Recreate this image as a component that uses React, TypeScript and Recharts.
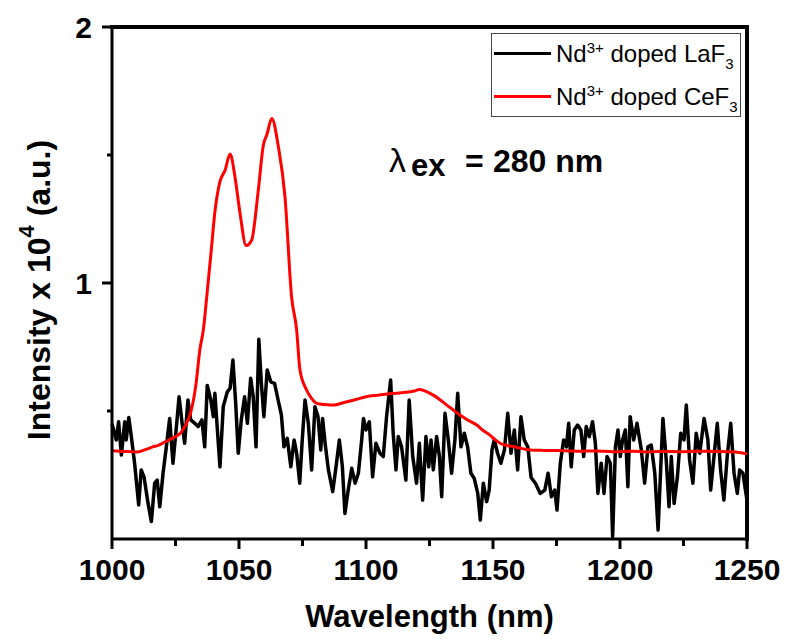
import { LineChart, Line, XAxis, YAxis, Legend } from "recharts"

const FONT = "'Liberation Sans', Arial, sans-serif"

// Nd3+ doped LaF3 (black, noisy)
const lafX = [
  1000, 1001.7, 1002.6, 1003.7, 1005, 1005.6, 1006.6, 1007.6, 1008.9, 1010.5,
  1011.5, 1012.6, 1014.2, 1015.5, 1016.8, 1017.8, 1018.8, 1020.1, 1021.4, 1022.7,
  1024, 1025.3, 1026.4, 1027.6, 1028.6, 1029.9, 1031, 1032.6, 1033.9, 1035.4,
  1036.5, 1037.5, 1038.9, 1039.9, 1040.5, 1042.5, 1043.8, 1045.4, 1046.5, 1047.6,
  1048.7, 1049.7, 1050.9, 1052.2, 1053.3, 1054.6, 1055.6, 1056.7, 1057.8, 1058.8,
  1059.8, 1061.1, 1062.5, 1064, 1065.4, 1066.7, 1067.7, 1069, 1070.4, 1071.7,
  1072.7, 1073.9, 1074.9, 1076, 1077.3, 1078.6, 1079.9, 1081.1, 1082.2, 1082.9,
  1083.9, 1085.2, 1086.9, 1088.2, 1089.5, 1090.7, 1091.7, 1093, 1094.4, 1095.7,
  1097, 1098.3, 1099, 1100, 1101.3, 1102.6, 1103.9, 1105.5, 1106.8, 1108.1,
  1109.7, 1110.7, 1111.8, 1112.7, 1114, 1115.7, 1117, 1118.4, 1119.9, 1121,
  1122.3, 1123.6, 1124.7, 1125.6, 1126.5, 1127.8, 1128.9, 1129.8, 1131.1, 1132.4,
  1133.7, 1135, 1136.1, 1137.4, 1138.7, 1140, 1141.3, 1142.6, 1144, 1145,
  1146.2, 1147.5, 1148.5, 1149.6, 1150.5, 1151.8, 1153.1, 1154.5, 1155.8, 1157.1,
  1158.4, 1159.7, 1161, 1162.3, 1163.7, 1165, 1166.7, 1168.6, 1170.4, 1171.7,
  1173, 1174.3, 1175.2, 1176.5, 1177.8, 1178.9, 1179.8, 1180.8, 1182, 1183.3,
  1184.6, 1185.7, 1186.7, 1187.9, 1189.2, 1190.3, 1191.3, 1192.6, 1193.7, 1194.9,
  1196.2, 1197.1, 1198.2, 1199.2, 1200.1, 1201, 1202.1, 1203.1, 1204, 1205.4,
  1206.7, 1208.4, 1209.7, 1211, 1212.3, 1213.7, 1215, 1216, 1216.9, 1218.2,
  1219.3, 1220.2, 1221.3, 1222.6, 1223.9, 1225.2, 1226.1, 1227.4, 1228.7, 1230,
  1231.4, 1233.1, 1234.6, 1235.7, 1237, 1238.3, 1239.6, 1240.9, 1242.2, 1243.6,
  1244.9, 1246.2, 1247.1, 1248.4, 1250,
]
const lafY = [
  0.45, 0.387, 0.458, 0.328, 0.458, 0.387, 0.475, 0.4, 0.296, 0.133,
  0.27, 0.243, 0.139, 0.068, 0.218, 0.23, 0.126, 0.257, 0.36, 0.471,
  0.296, 0.432, 0.556, 0.452, 0.374, 0.543, 0.465, 0.452, 0.439, 0.465,
  0.36, 0.6, 0.543, 0.478, 0.569, 0.282, 0.517, 0.575, 0.589, 0.699,
  0.53, 0.335, 0.465, 0.556, 0.452, 0.628, 0.556, 0.36, 0.78, 0.608,
  0.478, 0.66, 0.614, 0.608, 0.543, 0.484, 0.36, 0.393, 0.282, 0.387,
  0.335, 0.218, 0.387, 0.543, 0.452, 0.27, 0.517, 0.478, 0.348, 0.471,
  0.374, 0.27, 0.185, 0.282, 0.387, 0.282, 0.1, 0.191, 0.276, 0.218,
  0.257, 0.387, 0.471, 0.426, 0.458, 0.243, 0.374, 0.335, 0.322, 0.478,
  0.621, 0.413, 0.27, 0.4, 0.36, 0.23, 0.543, 0.322, 0.218, 0.374,
  0.152, 0.4, 0.282, 0.387, 0.27, 0.4, 0.322, 0.165, 0.491, 0.387,
  0.257, 0.387, 0.569, 0.36, 0.413, 0.36, 0.257, 0.237, 0.178, 0.074,
  0.218, 0.146, 0.191, 0.348, 0.387, 0.335, 0.296, 0.348, 0.491, 0.335,
  0.426, 0.27, 0.478, 0.387, 0.36, 0.24, 0.218, 0.178, 0.191, 0.257,
  0.165, 0.191, 0.113, 0.296, 0.387, 0.36, 0.452, 0.282, 0.426, 0.445,
  0.426, 0.322, 0.439, 0.4, 0.458, 0.374, 0.178, 0.296, 0.178, 0.322,
  0.296, 0.01, 0.36, 0.426, 0.322, 0.387, 0.426, 0.204, 0.478, 0.387,
  0.452, 0.348, 0.218, 0.36, 0.367, 0.257, 0.035, 0.27, 0.471, 0.309,
  0.126, 0.322, 0.139, 0.243, 0.413, 0.387, 0.523, 0.309, 0.218, 0.413,
  0.335, 0.471, 0.387, 0.191, 0.322, 0.452, 0.27, 0.152, 0.322, 0.452,
  0.257, 0.178, 0.27, 0.257, 0.15,
]

// Nd3+ doped CeF3 (red, smooth)
const cefX = [
  1000, 1005, 1010, 1012, 1014, 1016, 1018, 1021, 1024, 1027,
  1029, 1031, 1033, 1034.6, 1036, 1037.3, 1039, 1040.6, 1042.5, 1044.5,
  1046.5, 1048.4, 1050.4, 1052.8, 1055, 1057.6, 1059.6, 1061, 1062.9, 1065.5,
  1068.1, 1070.7, 1072.7, 1074, 1076.6, 1078.5, 1080.6, 1084, 1087, 1092,
  1096, 1100, 1105, 1110, 1115, 1119, 1121, 1124, 1126.5, 1129,
  1131.8, 1134.5, 1137, 1140, 1143.6, 1146, 1148.8, 1150.8, 1152.8, 1155,
  1158, 1161, 1164.6, 1170, 1177.7, 1185, 1190, 1197, 1205, 1210,
  1215, 1223.6, 1230, 1237, 1243, 1247, 1250,
]
const cefY = [
  0.345, 0.342, 0.34, 0.345, 0.352, 0.36, 0.365, 0.38, 0.395, 0.414,
  0.445, 0.495, 0.6, 0.74, 0.82, 0.946, 1.12, 1.285, 1.396, 1.44,
  1.504, 1.415, 1.273, 1.146, 1.168, 1.363, 1.539, 1.58, 1.643, 1.532,
  1.337, 0.946, 0.816, 0.66, 0.582, 0.55, 0.53, 0.525, 0.523, 0.535,
  0.545, 0.556, 0.562, 0.568, 0.572, 0.578, 0.584, 0.575, 0.562, 0.545,
  0.523, 0.503, 0.484, 0.465, 0.445, 0.425, 0.406, 0.388, 0.374, 0.366,
  0.361, 0.354, 0.348, 0.346, 0.345, 0.343, 0.344, 0.341, 0.343, 0.34,
  0.342, 0.341, 0.343, 0.342, 0.341, 0.338, 0.332,
]

const xTicks = [1000, 1025, 1050, 1075, 1100, 1125, 1150, 1175, 1200, 1225, 1250]
const yTicks = [0.5, 1, 1.5, 2]

const lafData = lafX.map((x, i) => ({ x, y: lafY[i] }))
const cefData = cefX.map((x, i) => ({ x, y: cefY[i] }))

const XTick = ({ x, y, payload }: any) => {
  const major = payload.value % 50 === 0
  return (
    <g>
      <line x1={x} x2={x} y1={y} y2={y + (major ? 10 : 7)} stroke="#000" strokeWidth={3} />
      {major && (
        <text x={x} y={y + 41} textAnchor="middle" fontSize={30} fontWeight="bold" fontFamily={FONT} fill="#000">
          {payload.value}
        </text>
      )}
    </g>
  )
}

const YTick = ({ x, y, payload }: any) => {
  const major = payload.value % 1 === 0
  return (
    <g>
      <line x1={x} x2={x - (major ? 10 : 5)} y1={y} y2={y} stroke="#000" strokeWidth={3} />
      {major && (
        <text x={x - 20} y={y + 11} textAnchor="end" fontSize={30} fontWeight="bold" fontFamily={FONT} fill="#000">
          {payload.value}
        </text>
      )}
    </g>
  )
}

const XTitle = ({ viewBox }: any) => (
  <text
    x={viewBox.x + viewBox.width / 2}
    y={viewBox.y + 88}
    textAnchor="middle"
    fontSize={31}
    fontWeight="bold"
    fontFamily={FONT}
    fill="#000"
  >
    Wavelength (nm)
  </text>
)

const YTitle = () => (
  <text
    x={50}
    y={290}
    transform="rotate(-90, 50, 290)"
    textAnchor="middle"
    fontSize={32}
    fontWeight="bold"
    fontFamily={FONT}
    fill="#000"
  >
    Intensity x 10
    <tspan dy={-16} fontSize={22}>4</tspan>
    <tspan dy={16}> (a.u.)</tspan>
  </text>
)

const LegendBox = () => (
  <div
    style={{
      position: "relative",
      width: 250,
      height: 84,
      boxSizing: "border-box",
      border: "1px solid #444",
      background: "#fff",
      fontFamily: FONT,
      fontSize: 24,
      lineHeight: "24px",
      color: "#000",
    }}
  >
    {[
      { color: "#000", host: "LaF", top: 19 },
      { color: "#ff0000", host: "CeF", top: 62 },
    ].map((r) => (
      <div key={r.host}>
        <div style={{ position: "absolute", left: 2, top: r.top - 1.5, width: 57, height: 3.5, background: r.color }} />
        <div style={{ position: "absolute", left: 64, top: r.top - 11, whiteSpace: "nowrap" }}>
          Nd<sup style={{ fontSize: 15, verticalAlign: "9px", lineHeight: 0 }}>3+</sup> doped {r.host}
          <sub style={{ fontSize: 15, verticalAlign: "-7px", lineHeight: 0 }}>3</sub>
        </div>
      </div>
    ))}
  </div>
)

export default function App() {
  return (
    <div style={{ position: "absolute", left: 0, top: 0, width: 786, height: 643, background: "#fff" }}>
      {/* plot frame: a bordered box behind the chart, its left and bottom edges are covered by the axes */}
      <div
        style={{
          position: "absolute",
          left: 110,
          top: 25,
          width: 639,
          height: 516,
          boxSizing: "border-box",
          borderTop: "4px solid #000",
          borderRight: "4px solid #000",
        }}
      />
      <div style={{ position: "absolute", left: 0, top: 0 }}>
        <LineChart width={786} height={643} margin={{ top: 27, right: 39, bottom: 0, left: 0 }}>
          <XAxis
            dataKey="x"
            type="number"
            domain={[1000, 1250]}
            ticks={xTicks}
            allowDuplicatedCategory={false}
            height={104}
            tickSize={0}
            tickMargin={0}
            tickLine={false}
            tick={<XTick />}
            axisLine={{ stroke: "#000", strokeWidth: 3 }}
            label={{ content: (p: any) => <XTitle {...p} /> }}
          />
          <YAxis
            type="number"
            domain={[0, 2]}
            ticks={yTicks}
            width={112}
            tickSize={0}
            tickMargin={0}
            tickLine={false}
            tick={<YTick />}
            axisLine={{ stroke: "#000", strokeWidth: 3 }}
            label={{ content: () => <YTitle /> }}
          />
          <Legend
            layout="horizontal"
            verticalAlign="middle"
            align="center"
            content={<LegendBox />}
            wrapperStyle={{ left: 491, top: 33, width: 250, height: 84 }}
          />
          <Line
            data={lafData}
            dataKey="y"
            type="linear"
            stroke="#000"
            strokeWidth={3.5}
            strokeLinejoin="round"
            dot={false}
            isAnimationActive={false}
          />
          <Line
            data={cefData}
            dataKey="y"
            type="monotone"
            stroke="#ff0000"
            strokeWidth={3}
            dot={false}
            isAnimationActive={false}
          />
        </LineChart>
      </div>
      <div
        style={{
          position: "absolute",
          left: 389,
          top: 145,
          width: 230,
          height: 45,
          fontFamily: FONT,
          fontWeight: "bold",
          whiteSpace: "nowrap",
          color: "#000",
        }}
      >
        <span style={{ position: "absolute", left: 0, top: -1, fontSize: 34, lineHeight: "32px", fontWeight: "normal" }}>λ</span>
        <span style={{ position: "absolute", left: 22, top: 5, fontSize: 31, lineHeight: "32px" }}>ex</span>
        <span style={{ position: "absolute", left: 76, top: 0, fontSize: 32, lineHeight: "32px" }}>=</span>
        <span style={{ position: "absolute", left: 104, top: 0, fontSize: 32, lineHeight: "32px" }}>280 nm</span>
      </div>
    </div>
  )
}
